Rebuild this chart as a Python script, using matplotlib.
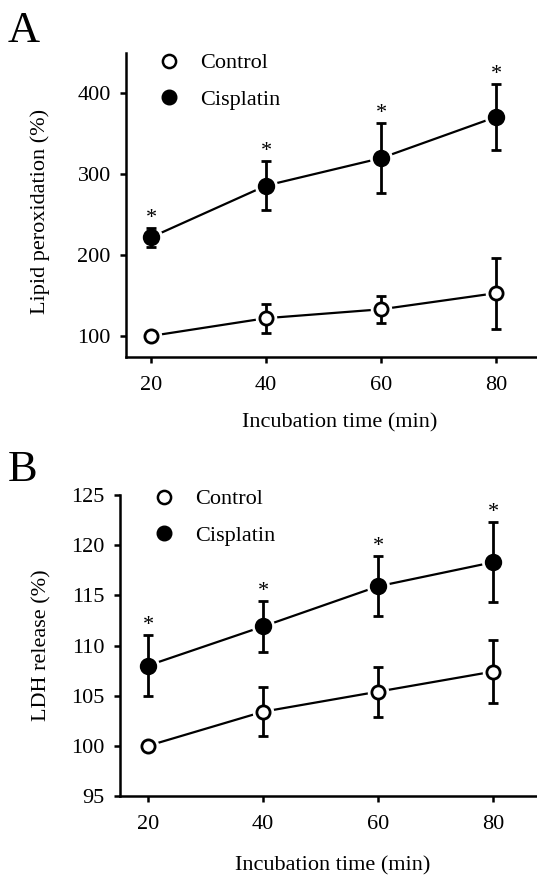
import matplotlib
matplotlib.use("Agg")
import matplotlib.pyplot as plt
from matplotlib.lines import Line2D

plt.rcParams['font.family'] = ['Liberation Serif', 'DejaVu Serif']

# Data
times = [20, 40, 60, 80]

# Panel A: lipid peroxidation (%)
lipid_control = [100, 122, 133, 153]
lipid_control_err = [0, 18, 17, 44]
lipid_cis = [222, 286, 320, 371]
lipid_cis_err = [12, 30, 43, 41]
lipid_ticks = [100, 200, 300, 400]

# Panel B: LDH release (%)
ldh_control = [100, 103.4, 105.4, 107.4]
ldh_control_err = [0, 2.45, 2.5, 3.1]
ldh_cis = [108, 111.9, 115.9, 118.3]
ldh_cis_err = [3.0, 2.5, 3.0, 4.0]
ldh_ticks = [95, 100, 105, 110, 115, 120, 125]

x_ticks = [20, 40, 60, 80]


def draw_panel(ax, control, control_err, cis, cis_err, yticks, ylim, xlim, ylabel, leg_y):
    for vals, errs, face, ms in [(control, control_err, 'white', 9.5),
                                 (cis, cis_err, 'black', 10.5)]:
        ax.plot(times, vals, color='black', lw=1.6, zorder=1)
        # white halo so the line stops short of the marker
        ax.plot(times, vals, 'o', ms=ms + 5, color='white', zorder=2)
        ax.errorbar(times, vals, yerr=errs, fmt='none', ecolor='black',
                    elinewidth=2.0, capsize=3.5, capthick=2.0, zorder=3)
        ax.plot(times, vals, 'o', ms=ms, mfc=face, mec='black', mew=2.0, zorder=4)

    # significance stars above cisplatin error bars
    for t, v, e in zip(times, cis, cis_err):
        ax.annotate('*', xy=(t, v + e), xytext=(0, 0), textcoords='offset points',
                    ha='center', va='bottom', fontsize=16)

    ax.set_xlim(*xlim)
    ax.set_ylim(*ylim)
    ax.set_xticks(x_ticks)
    ax.set_yticks(yticks)
    ax.spines['top'].set_visible(False)
    ax.spines['right'].set_visible(False)
    ax.spines['left'].set_linewidth(1.8)
    ax.spines['bottom'].set_linewidth(1.8)
    ax.tick_params(axis='both', direction='out', length=4, width=1.8,
                   labelsize=16, pad=7)
    ax.tick_params(axis='x', pad=10)
    ax.set_ylabel(ylabel, fontsize=16)
    ax.set_xlabel('Incubation time (min)', fontsize=16)

    handles = [Line2D([], [], ls='none', marker='o', ms=9.5, mfc='white', mec='black', mew=1.8),
               Line2D([], [], ls='none', marker='o', ms=10.5, mfc='black', mec='black')]
    ax.legend(handles, ['Control', 'Cisplatin'], loc='upper left', frameon=False,
              fontsize=16, handletextpad=0.4, labelspacing=0.72,
              bbox_to_anchor=(0.03, leg_y), borderaxespad=0)


fig = plt.figure(figsize=(5.37, 8.81), dpi=100)

ax1 = fig.add_axes([0.2346, 0.5948, 0.7654, 0.345])
draw_panel(ax1, lipid_control, lipid_control_err, lipid_cis, lipid_cis_err,
           lipid_ticks, (74, 450), (15.65, 87.1), 'Lipid peroxidation (%)', 1.03)
ax1.yaxis.set_label_coords(-0.185, 0.48)
ax1.xaxis.set_label_coords(0.52, -0.185)

ax2 = fig.add_axes([0.2235, 0.0965, 0.7765, 0.3416])
draw_panel(ax2, ldh_control, ldh_control_err, ldh_cis, ldh_cis_err,
           ldh_ticks, (95, 125), (15.13, 87.65), 'LDH release (%)', 1.05)
ax2.yaxis.set_label_coords(-0.165, 0.5)
ax2.xaxis.set_label_coords(0.51, -0.2)

fig.text(0.015, 0.942, 'A', fontsize=32, ha='left', va='bottom')
fig.text(0.015, 0.444, 'B', fontsize=32, ha='left', va='bottom')

fig.savefig('out.png', dpi=100)
